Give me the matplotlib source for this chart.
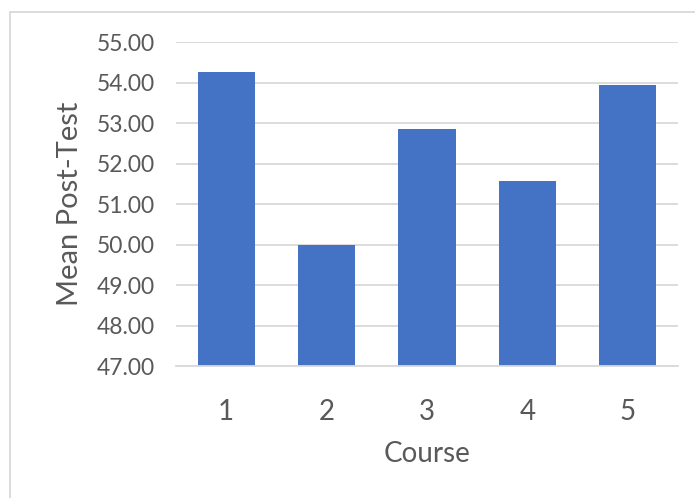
import matplotlib
matplotlib.use("Agg")
import matplotlib.pyplot as plt
from matplotlib.patches import Rectangle

courses = ["1", "2", "3", "4", "5"]
mean_post_test = [54.26, 50.00, 52.85, 51.58, 53.95]
y_ticks = [47, 48, 49, 50, 51, 52, 53, 54, 55]

plt.rcParams["font.family"] = ["Lato", "DejaVu Sans"]

W, H = 695, 498
fig = plt.figure(figsize=(W / 100, H / 100), dpi=100)
fig.patch.set_facecolor("white")

# outer chart border (clipped at right and bottom)
fig.patches.append(Rectangle((10 / W, -0.1), 1.2, 1 - 12.5 / H + 0.1,
                             transform=fig.transFigure, fill=False,
                             edgecolor="#d9d9d9", linewidth=1.3))

ax = fig.add_axes([176 / W, 1 - 366 / H, (678 - 176) / W, (366 - 42) / H])
x = range(len(courses))
ax.bar(x, mean_post_test, width=0.571, color="#4472C4", zorder=3)
ax.set_ylim(47, 55)
ax.set_xlim(-0.5, len(courses) - 0.5)
ax.set_yticks(y_ticks)
ax.set_yticklabels([f"{v:.2f}" for v in y_ticks])
ax.set_xticks(list(x))
ax.set_xticklabels(courses)

ax.grid(axis="y", color="#d9d9d9", linewidth=1.3, zorder=0)
for s in ["top", "right", "left"]:
    ax.spines[s].set_visible(False)
ax.spines["bottom"].set_color("#d9d9d9")
ax.spines["bottom"].set_linewidth(1.3)
ax.spines["bottom"].set_zorder(4)

ax.tick_params(axis="both", length=0, colors="#595959")
ax.tick_params(axis="y", pad=15, labelsize=16.5)
ax.tick_params(axis="x", pad=24, labelsize=20)

ax.set_xlabel("Course", fontsize=20, color="#595959", labelpad=11)
ax.set_ylabel("Mean Post-Test", fontsize=21, color="#595959", labelpad=10)

fig.savefig("out.png", dpi=100)
